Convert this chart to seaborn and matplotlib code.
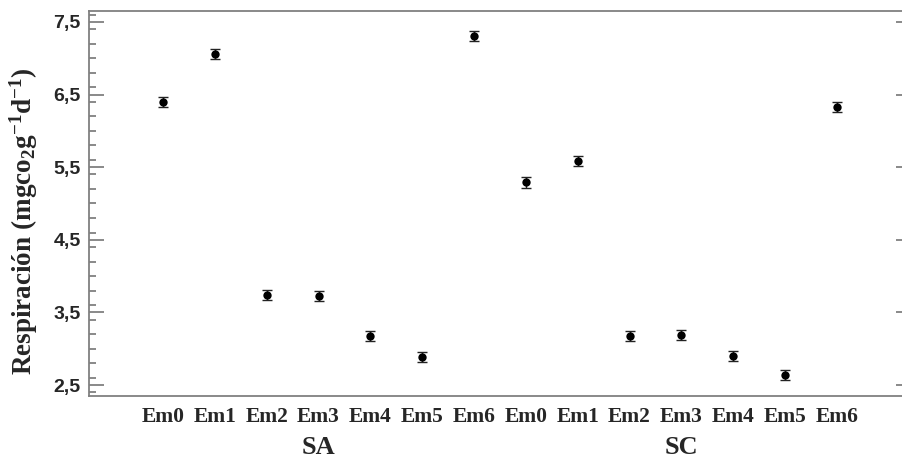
import matplotlib
matplotlib.use("Agg")
import matplotlib.pyplot as plt
from matplotlib.ticker import MultipleLocator, FuncFormatter
import numpy as np
import pandas as pd
import seaborn as sns

# respiration means and error bars
groups = ["SA", "SC"]
levels = ["Em0", "Em1", "Em2", "Em3", "Em4", "Em5", "Em6"]
sa_mean = [6.40, 7.06, 3.735, 3.73, 3.175, 2.89, 7.31]
sc_mean = [5.29, 5.58, 3.18, 3.19, 2.90, 2.64, 6.33]
sa_err = [0.07, 0.07, 0.07, 0.07, 0.07, 0.07, 0.07]
sc_err = [0.07, 0.07, 0.07, 0.07, 0.07, 0.07, 0.07]

df = pd.DataFrame({
    "group": ["SA"] * len(levels) + ["SC"] * len(levels),
    "level": levels + levels,
    "resp": sa_mean + sc_mean,
    "err": sa_err + sc_err,
})
df["pos"] = np.arange(len(df))

sns.set_style("white")
plt.rcParams["mathtext.fontset"] = "custom"
plt.rcParams["mathtext.rm"] = "Liberation Serif:bold"
plt.rcParams["mathtext.bf"] = "Liberation Serif:bold"
plt.rcParams["mathtext.it"] = "Liberation Serif:bold"
plt.rcParams["axes.unicode_minus"] = False

fig = plt.figure(figsize=(9.02, 4.62), dpi=100)
ax = fig.add_axes([0.0987, 0.1429, 0.9113, 0.8333])

ax.errorbar(df["pos"], df["resp"], yerr=df["err"], fmt="none",
            ecolor="#222222", elinewidth=1.0, capsize=3.8, capthick=1.0, zorder=2)
sns.scatterplot(data=df, x="pos", y="resp", color="black", s=36,
                edgecolor="black", linewidth=0, ax=ax, zorder=3)

ax.set_xlim(-1.427, 14.43)
ax.set_ylim(2.35, 7.65)
ax.set_yticks([2.5, 3.5, 4.5, 5.5, 6.5, 7.5])
ax.yaxis.set_minor_locator(MultipleLocator(0.2))
ax.yaxis.set_major_formatter(FuncFormatter(lambda v, p: f"{v:.1f}".replace(".", ",")))

ax.set_xticks(df["pos"])
ax.set_xticklabels(df["level"], fontfamily="Liberation Serif", fontweight="bold", fontsize=15.5)
ax.tick_params(axis="x", length=0, pad=8)
ax.tick_params(axis="y", which="major", direction="in", length=11, width=1.3,
               color="#808080", left=True, right=True, pad=6)
ax.tick_params(axis="y", which="minor", direction="in", length=5.2, width=1.3,
               color="#808080", left=True, right=False)
for lab in ax.get_yticklabels():
    lab.set_fontfamily("Liberation Sans")
    lab.set_fontweight("bold")
    lab.set_fontsize(14)

for sp in ax.spines.values():
    sp.set_color("#808080")
    sp.set_linewidth(1.3)
ax.spines["right"].set_visible(False)

ax.set_xlabel("")
ax.set_ylabel("Respiración (mgco$_{2}$g$^{-1}$d$^{-1}$)",
              fontfamily="Liberation Serif", fontweight="bold", fontsize=19.5)
ax.yaxis.set_label_coords(-0.060, 0.455)

trans = ax.get_xaxis_transform()
for g in groups:
    center = df.loc[df["group"] == g, "pos"].mean()
    ax.text(center, -0.134, g, transform=trans, ha="center", va="center",
            fontfamily="Liberation Serif", fontweight="bold", fontsize=19)

fig.savefig("out.png", dpi=100)
